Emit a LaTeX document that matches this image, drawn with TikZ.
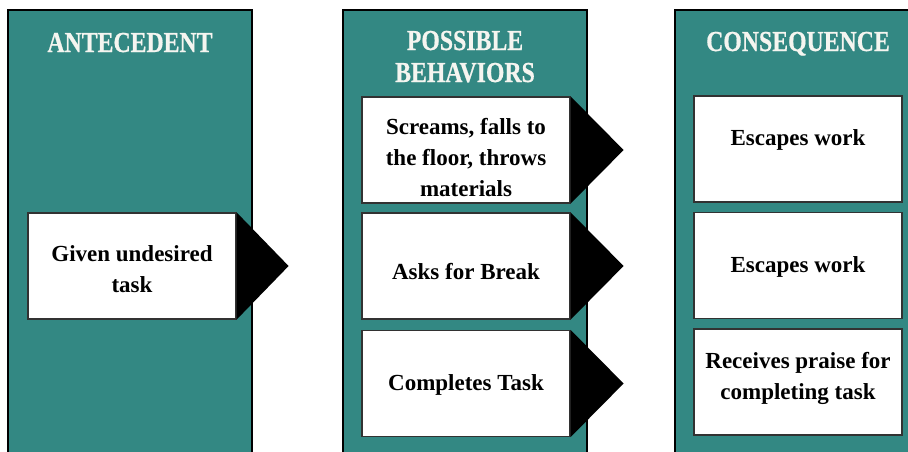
\documentclass[tikz,border=0pt]{standalone}
\usepackage{fontspec}
\setmainfont{Liberation Serif}
\newfontfamily\hdfont[FakeStretch=0.82,FakeBold=0.6]{Liberation Serif}
\usetikzlibrary{calc}
\definecolor{teal}{RGB}{51,136,131}
\definecolor{hdwhite}{RGB}{245,245,240}
\definecolor{boxline}{RGB}{50,50,50}
\tikzset{
  column/.style={draw=black, line width=1.6pt, fill=teal},
  hdtext/.style={text=hdwhite, font=\hdfont\bfseries\fontsize{29}{32}\selectfont, align=center, anchor=base, inner sep=0pt},
  card/.style={draw=boxline, line width=1.2pt, fill=white, minimum width=208pt, minimum height=106pt, inner sep=0pt},
  cardtext/.style={font=\bfseries\fontsize{23}{31}\selectfont, align=center, inner sep=0pt, text=black},
  pointer/.style={fill=black, draw=none}
}
\begin{document}
\begin{tikzpicture}[x=1pt,y=-1pt]
\useasboundingbox (0,0) rectangle (908,451);
\clip (0,0) rectangle (908,451);
% columns
\draw[column] (8,10) rectangle (252,470);
\draw[column] (343,10) rectangle (587,470);
\draw[column] (675,10) rectangle (921,470);
% headers
\node[hdtext] (h1) at (130,52) {ANTECEDENT};
\node[hdtext] (h2a) at (465,50) {POSSIBLE};
\node[hdtext] (h2b) at (465,82) {BEHAVIORS};
\node[hdtext] (h3) at (798,51) {CONSEQUENCE};
% column 1
\node[card] (a1) at (132,266) {};
\fill[pointer] (a1.north east) -- ($(a1.east)+(52,0)$) -- (a1.south east) -- cycle;
\node[cardtext] (a1t) at (132,269) {Given undesired\\task};
% column 2
\node[card] (b1) at (466,150) {};
\node[card] (b2) at (466,266) {};
\node[card] (b3) at (466,383.5) {};
\foreach \b in {b1,b2,b3}{
  \fill[pointer] (\b.north east) -- ($(\b.east)+(53,0)$) -- (\b.south east) -- cycle;
}
\node[cardtext] (b1t) at (466,158) {Screams, falls to\\the floor, throws\\materials};
\node[cardtext] (b2t) at (466,272) {Asks for Break};
\node[cardtext] (b3t) at (466,385) {Completes Task};
% column 3
\node[card] (c1) at (798,149) {};
\node[card] (c2) at (798,265.5) {};
\node[card] (c3) at (798,382) {};
\node[cardtext] (c1t) at (798,140) {Escapes work};
\node[cardtext] (c2t) at (798,267) {Escapes work};
\node[cardtext] (c3t) at (798,378) {Receives praise for\\completing task};
\end{tikzpicture}
\end{document}
